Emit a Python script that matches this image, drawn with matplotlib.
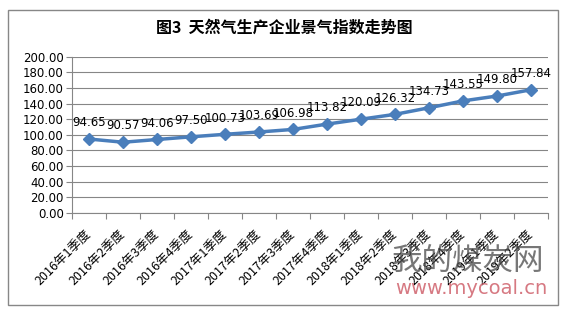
import numpy as np
import matplotlib.pyplot as plt
from matplotlib.patches import Rectangle

plt.rcParams['font.family'] = ['Noto Sans CJK SC', 'DejaVu Sans']

quarters = ["2016年1季度", "2016年2季度", "2016年3季度", "2016年4季度",
            "2017年1季度", "2017年2季度", "2017年3季度", "2017年4季度",
            "2018年1季度", "2018年2季度", "2018年3季度", "2018年4季度",
            "2019年1季度", "2019年2季度"]
index_values = [94.65, 90.57, 94.06, 97.50, 100.73, 103.69, 106.98,
                113.82, 120.09, 126.32, 134.73, 143.55, 149.80, 157.84]
y_ticks = [0, 20, 40, 60, 80, 100, 120, 140, 160, 180, 200]

fig = plt.figure(figsize=(5.68, 3.14), dpi=100)
ax = fig.add_axes([0.127, 0.322, 0.838, 0.497])

# outer chart frame
fig.patches.append(Rectangle((8 / 568, 1 - 305 / 314), 550 / 568, 295 / 314,
                             transform=fig.transFigure, fill=False,
                             edgecolor='#878787', linewidth=1.0))

fig.text(0.5, 1 - 28 / 314, "图3  天然气生产企业景气指数走势图",
         ha='center', va='center', fontsize=11.5, fontweight='bold')

x = np.arange(len(quarters))
ax.plot(x, index_values, color='#4A7EBB', linewidth=2.5, marker='D',
        markersize=6, markerfacecolor='#4A7EBB', markeredgecolor='#4A7EBB', zorder=3)

for xi, v in zip(x, index_values):
    ax.annotate("%.2f" % v, (xi, v), xytext=(0, 7), textcoords='offset points',
                ha='center', va='bottom', fontsize=8.5, family='DejaVu Sans')

ax.set_xlim(-0.5, len(quarters) - 0.5)
ax.set_ylim(0, 200)
ax.set_yticks(y_ticks)
ax.set_yticklabels(["%.2f" % t for t in y_ticks], fontsize=8.5, family='DejaVu Sans')
ax.yaxis.grid(True, color='#868686', linewidth=0.8)
ax.set_axisbelow(True)

ax.set_xticks(np.arange(len(quarters) + 1) - 0.5)
ax.set_xticklabels([])
ax.set_xticks(x, minor=True)
ax.set_xticklabels(quarters, minor=True, rotation=45, ha='right', va='center',
                   rotation_mode='anchor', fontsize=9)
ax.tick_params(axis='x', which='minor', length=0, pad=14)
ax.tick_params(axis='x', which='major', length=4, color='#868686')
ax.tick_params(axis='y', length=4, color='#868686', pad=2)

for s in ['top', 'right']:
    ax.spines[s].set_visible(False)
for s in ['left', 'bottom']:
    ax.spines[s].set_color('#868686')

# watermark
fig.text(468 / 568, 1 - 261 / 314, "我的煤炭网", ha='center', va='center',
         fontsize=22, color='#4a4a4a', alpha=0.75)
fig.text(471 / 568, 1 - 289 / 314, "www.mycoal.cn", ha='center', va='center',
         fontsize=14, color='#d26a74', family='DejaVu Sans', alpha=0.9)

fig.savefig('out.png', dpi=100)
